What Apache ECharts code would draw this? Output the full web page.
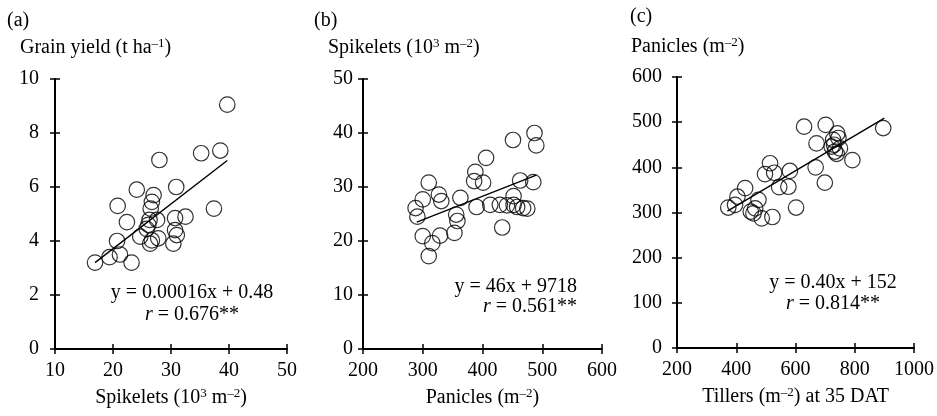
<!DOCTYPE html>
<html>
<head>
<meta charset="utf-8">
<script src="https://cdn.jsdelivr.net/npm/echarts@6/dist/echarts.min.js"></script>
<style>
  html, body { margin: 0; padding: 0; background: #fff; }
  #chart { width: 937px; height: 416px; }
</style>
</head>
<body>
<div id="chart"></div>
<script>
// (a) spikelets (10^3 m-2) vs grain yield (t ha-1)
const pointsA = [
  [39.7, 9.05], [38.5, 7.35], [35.2, 7.25], [28.0, 7.0], [30.9, 6.0], [24.1, 5.9],
  [27.0, 5.7], [26.7, 5.45], [26.5, 5.2], [20.8, 5.3], [37.4, 5.2], [22.4, 4.7],
  [26.3, 4.78], [27.6, 4.78], [30.7, 4.85], [32.5, 4.9], [26.1, 4.6], [25.8, 4.45],
  [30.7, 4.4], [31.0, 4.22], [24.7, 4.16], [26.7, 4.02], [27.8, 4.1], [30.4, 3.9],
  [26.4, 3.9], [20.7, 4.0], [16.9, 3.2], [19.4, 3.4], [21.2, 3.5], [23.2, 3.2]
]
const fitA = [[16.9, 3.2], [39.7, 6.98]]

// (b) panicles (m-2) vs spikelets (10^3 m-2)
const pointsB = [
  [451, 38.7], [487, 40.0], [490, 37.7], [406, 35.4], [388, 32.8], [386, 31.1],
  [401, 30.8], [310, 30.8], [463, 31.2], [485, 30.9], [327, 28.6], [300, 27.7],
  [331, 27.4], [363, 28.0], [288, 26.1], [291, 24.5], [356, 24.9], [358, 23.7],
  [390, 26.3], [413, 26.7], [429, 26.7], [441, 26.6], [452, 28.3], [452, 26.7],
  [458, 26.3], [468, 26.1], [475, 26.0], [353, 21.5], [433, 22.5], [300, 20.9],
  [329, 21.0], [316, 19.6], [310, 17.2]
]
const fitB = [[290, 23.5], [490, 32.2]]

// (c) tillers at 35 DAT (m-2) vs panicles (m-2)
const pointsC = [
  [896, 487], [629, 490], [702, 494], [671, 453], [741, 475], [727, 461],
  [722, 446], [750, 442], [733, 435], [745, 465], [730, 450], [739, 430],
  [792, 416], [668, 400], [699, 366], [514, 409], [497, 385], [528, 388],
  [581, 392], [545, 356], [576, 357], [430, 354], [404, 335], [396, 317],
  [373, 311], [475, 328], [464, 309], [449, 302], [458, 298], [486, 287],
  [522, 290], [602, 311]
]
const fitC = [[370, 303], [900, 509]]

const xTicksA = [10, 50, 10]   // min, max, interval
const yTicksA = [0, 10, 2]
const xTicksB = [200, 600, 100]
const yTicksB = [0, 50, 10]
const xTicksC = [200, 1000, 200]
const yTicksC = [0, 600, 100]

const FONT = "'Liberation Serif', 'Times New Roman', serif"
const sup = { fontSize: 13, fontFamily: FONT, color: '#000', verticalAlign: 'top' }
const base = { fontSize: 20, fontFamily: FONT, color: '#000', lineHeight: 22 }

const chart = echarts.init(document.getElementById('chart'))

const grids = [
  { left: 55, top: 79, width: 232, height: 270 },
  { left: 363, top: 79, width: 239, height: 270 },
  { left: 677, top: 77, width: 237, height: 271 }
]

function axisPair(ticks, gridIndex, isX, labelMargin, name) {
  const main = {
    type: 'value', gridIndex: gridIndex,
    min: ticks[0], max: ticks[1], interval: ticks[2],
    position: isX ? 'bottom' : 'left',
    axisLine: { show: true, lineStyle: { color: '#000', width: 2 } },
    axisTick: { show: true, inside: false, length: 5, lineStyle: { color: '#000', width: 1.5 } },
    axisLabel: { margin: labelMargin, color: '#000', fontSize: 20, fontFamily: FONT,
      formatter: v => String(v) },
    splitLine: { show: false }
  }
  if (name) {
    main.name = name
    main.nameLocation = 'middle'
    main.nameGap = 38
    main.nameTextStyle = { fontSize: 20, fontFamily: FONT, color: '#000', lineHeight: 22,
      rich: { b: base, s: sup } }
  }
  // second copy so the ticks cross the axis line
  const dup = {
    type: 'value', gridIndex: gridIndex,
    min: ticks[0], max: ticks[1], interval: ticks[2],
    position: isX ? 'bottom' : 'left',
    axisLine: { show: false },
    axisTick: { show: true, inside: true, length: 5, lineStyle: { color: '#000', width: 1.5 } },
    axisLabel: { show: false },
    splitLine: { show: false }
  }
  return [main, dup]
}

const xAxes = [
  ...axisPair(xTicksA, 0, true, 12, '{b|Spikelets (10}{s|3}{b| m}{s|–2}{b|)}'),
  ...axisPair(xTicksB, 1, true, 12, '{b|Panicles (m}{s|–2}{b|)}'),
  ...axisPair(xTicksC, 2, true, 12, '{b|Tillers (m}{s|–2}{b|) at 35 DAT}')
]
const yAxes = [
  ...axisPair(yTicksA, 0, false, 16),
  ...axisPair(yTicksB, 1, false, 10),
  ...axisPair(yTicksC, 2, false, 15)
]

function scatter(data, idx) {
  return {
    type: 'scatter', xAxisIndex: idx * 2, yAxisIndex: idx * 2,
    data: data, symbol: 'circle', symbolSize: 15.5,
    itemStyle: { color: 'rgba(0,0,0,0)', borderColor: '#000', borderWidth: 1.2 },
    silent: true
  }
}
function fit(data, idx) {
  return {
    type: 'line', xAxisIndex: idx * 2, yAxisIndex: idx * 2,
    data: data, showSymbol: false, symbol: 'none',
    lineStyle: { color: '#000', width: 1.4 }, silent: true
  }
}

function txt(x, y, text, align) {
  return {
    type: 'text', x: x, y: y,
    style: {
      text: text, align: align || 'left', verticalAlign: 'middle',
      fontSize: 20, fontFamily: FONT, fill: '#000',
      rich: { b: base, s: sup, i: Object.assign({}, base, { fontStyle: 'italic' }) }
    }
  }
}

const option = {
  animation: false,
  grid: grids,
  xAxis: xAxes,
  yAxis: yAxes,
  series: [
    scatter(pointsA, 0), fit(fitA, 0),
    scatter(pointsB, 1), fit(fitB, 1),
    scatter(pointsC, 2), fit(fitC, 2)
  ],
  graphic: [
    txt(7, 21, '{b|(a)}'),
    txt(314, 21, '{b|(b)}'),
    txt(630, 17, '{b|(c)}'),
    txt(20, 48, '{b|Grain yield (t ha}{s|–1}{b|)}'),
    txt(328, 48, '{b|Spikelets (10}{s|3}{b| m}{s|–2}{b|)}'),
    txt(631, 47, '{b|Panicles (m}{s|–2}{b|)}'),
    txt(192, 293, '{b|y = 0.00016x + 0.48}', 'center'),
    txt(192, 315, '{i|r}{b| = 0.676**}', 'center'),
    txt(577, 287, '{b|y = 46x + 9718}', 'right'),
    txt(577, 307, '{i|r}{b| = 0.561**}', 'right'),
    txt(833, 283, '{b|y = 0.40x + 152}', 'center'),
    txt(833, 304, '{i|r}{b| = 0.814**}', 'center')
  ]
}
chart.setOption(option)
</script>
</body>
</html>
